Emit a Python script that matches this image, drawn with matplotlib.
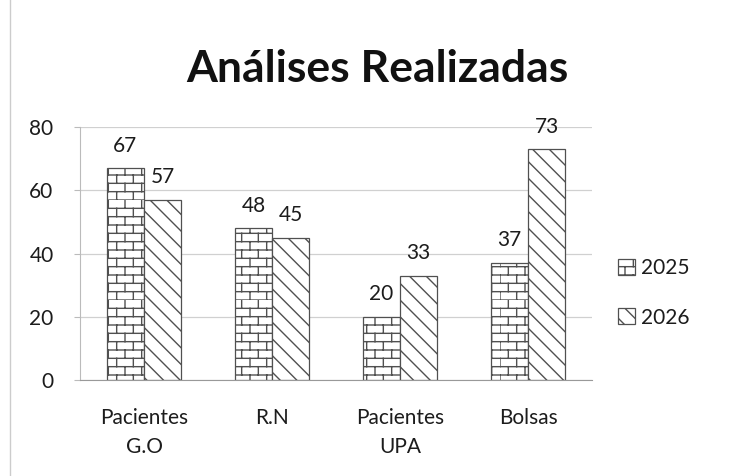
import warnings
import numpy as np
import matplotlib
matplotlib.use("Agg")
import matplotlib.pyplot as plt
import matplotlib.hatch as mhatch
from matplotlib.path import Path
from matplotlib.lines import Line2D

warnings.filterwarnings("ignore")

categorias = ["Pacientes\nG.O", "R.N", "Pacientes\nUPA", "Bolsas"]
anos = ["2025", "2026"]
valores_2025 = [67, 48, 20, 37]
valores_2026 = [57, 45, 33, 73]
yticks = [0, 20, 40, 60, 80]


# brick hatch pattern, triggered by the letter 'b'
class BrickHatch(mhatch.HatchPatternBase):
    def __init__(self, hatch, density):
        n = hatch.count('b')
        self.rows = 12 * n
        self.cols = 6 * n
        self.num_vertices = (self.rows + self.rows * self.cols) * 2

    def set_vertices_and_codes(self, vertices, codes):
        k = 0
        h = 1.0 / self.rows
        w = 1.0 / self.cols
        for i in range(self.rows):
            y = i * h
            vertices[k] = (0.0, y)
            vertices[k + 1] = (1.0, y)
            k += 2
            off = 0.5 * w * (i % 2)
            for j in range(self.cols):
                x = j * w + off
                vertices[k] = (x, y)
                vertices[k + 1] = (x, y + h)
                k += 2
        codes[0::2] = Path.MOVETO
        codes[1::2] = Path.LINETO


mhatch._hatch_types.append(BrickHatch)

plt.rcParams['font.family'] = ['Lato', 'DejaVu Sans']
plt.rcParams['hatch.linewidth'] = 1.0
plt.rcParams['hatch.color'] = '#5a5a5a'

txt = '#1c1c1c'

fig = plt.figure(figsize=(7.3, 4.76), dpi=100)
ax = fig.add_axes([0.1096, 0.2017, 0.7014, 0.5313])

x = np.arange(len(categorias))
w = 0.29

b1 = ax.bar(x - w / 2, valores_2025, w, color='white', edgecolor='#505050',
            hatch='b', linewidth=0.9, label=anos[0], zorder=2)
b2 = ax.bar(x + w / 2, valores_2026, w, color='white', edgecolor='#505050',
            hatch='\\\\', linewidth=0.9, label=anos[1], zorder=2)

for bars, vals in ((b1, valores_2025), (b2, valores_2026)):
    for r, v in zip(bars, vals):
        ax.text(r.get_x() + r.get_width() / 2, v + 4.0, str(v),
                ha='center', va='bottom', fontsize=15, color=txt)

ax.set_xlim(-0.5, len(categorias) - 0.5)
ax.set_ylim(0, 80)
ax.set_yticks(yticks)
ax.set_xticks(x)
ax.set_xticklabels(categorias, fontsize=15, color=txt, linespacing=1.6)
ax.tick_params(axis='y', labelsize=15, labelcolor=txt, length=4,
               color='#bbbbbb', pad=15)
ax.tick_params(axis='x', length=0, pad=20)
ax.grid(axis='y', color='#d0d0d0', linewidth=0.9, zorder=0)
for s in ('top', 'right'):
    ax.spines[s].set_visible(False)
ax.spines['left'].set_color('#bbbbbb')
ax.spines['bottom'].set_color('#999999')

fig.text(0.517, 0.855, "Análises Realizadas", ha='center', va='center',
         fontsize=32, fontweight='bold', color='#111111')

ax.legend(loc='center left', bbox_to_anchor=(1.015, 0.344), frameon=False,
          fontsize=15, handlelength=0.8, handleheight=0.8, handletextpad=0.3,
          labelspacing=1.4, labelcolor=txt)

# faint border line on the left edge
fig.add_artist(Line2D([0.014, 0.014], [0.0, 1.0], transform=fig.transFigure,
                      color='#cccccc', linewidth=1.0))

fig.savefig("out.png", dpi=100)
